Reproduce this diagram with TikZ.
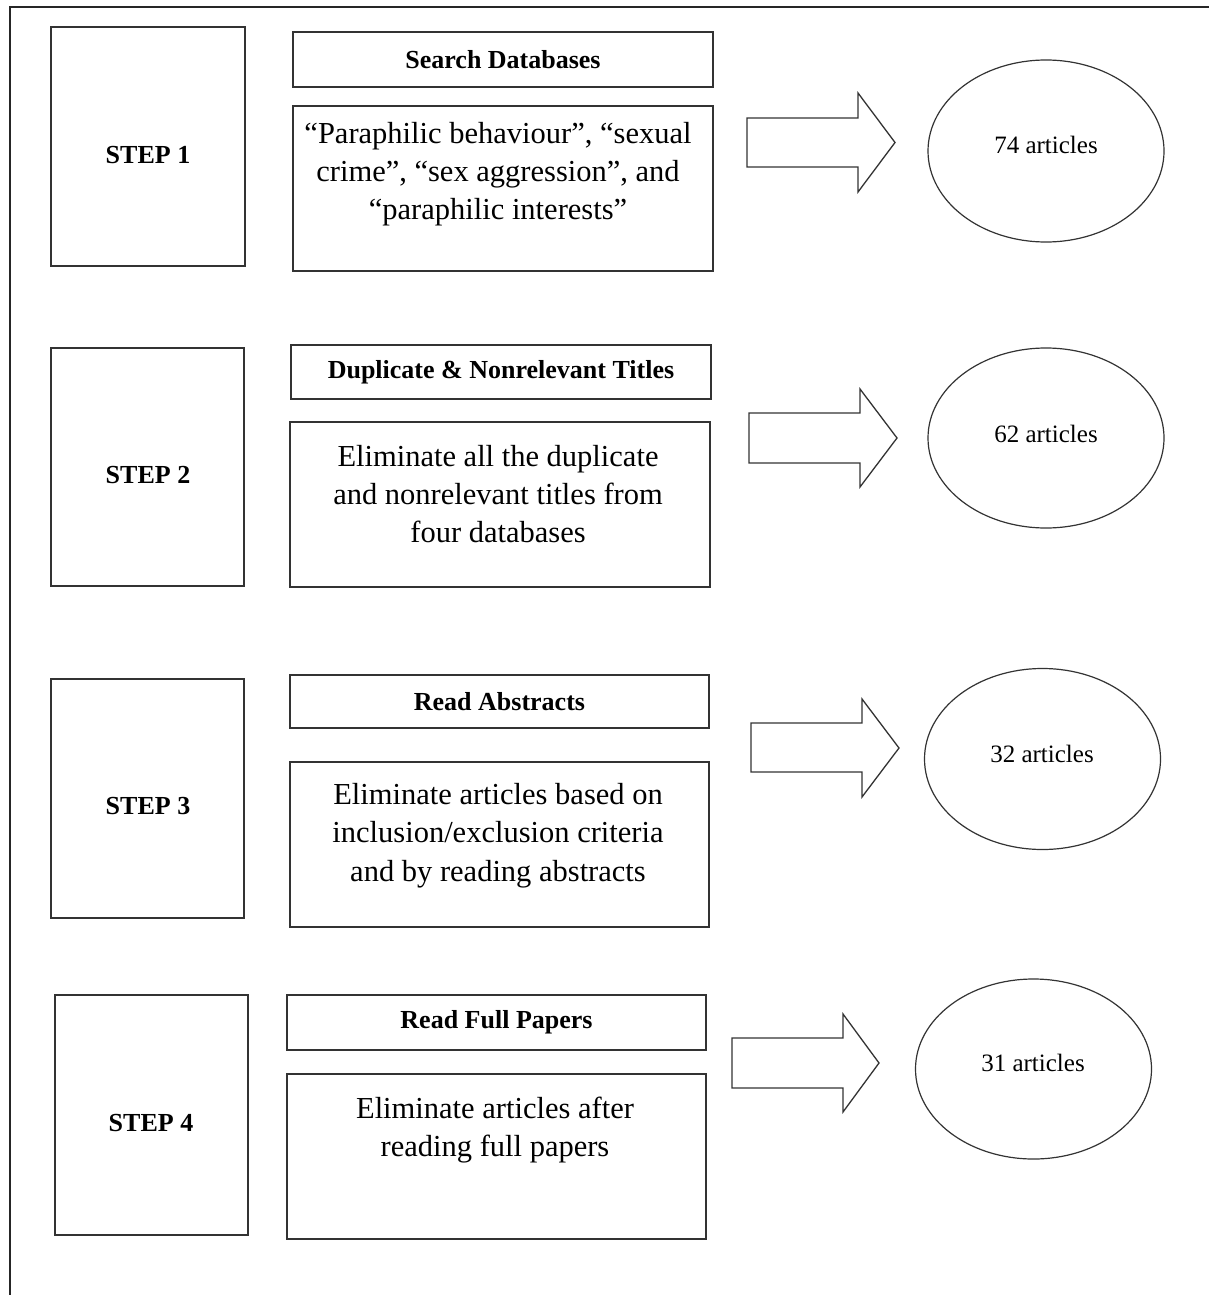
\documentclass[tikz,border=0pt]{standalone}
\usepackage{fontspec}
\setmainfont{Liberation Serif}
\usetikzlibrary{shapes.geometric}
\tikzset{
  box/.style={draw=black!80, line width=1.5pt, rectangle, inner sep=0pt},
  steptxt/.style={inner sep=0pt, font=\fontsize{26}{30}\selectfont\bfseries},
  titlebox/.style={box, font=\fontsize{26}{30}\selectfont\bfseries},
  bodytxt/.style={align=center, inner sep=0pt, font=\fontsize{30.5}{38.3}\selectfont},
  oval/.style={draw=black!80, line width=1.2pt, ellipse, inner sep=0pt, minimum width=236pt},
  ovaltxt/.style={inner sep=0pt, font=\fontsize{25}{30}\selectfont},
  blockarrow/.style={draw=black!80, line width=1.3pt, line join=miter, fill=white},
  frame/.style={draw=black!85, line width=1.3pt}
}
\begin{document}
\begin{tikzpicture}[x=1pt,y=-1pt]
\useasboundingbox (0,0) rectangle (1208,1295);
\fill[white] (0,0) rectangle (1208,1295);
% outer frame (top and left edges visible)
\coordinate (fTR) at (1210,7);
\coordinate (fTL) at (10,7);
\coordinate (fBL) at (10,1297);
\draw[frame] (fTR) -- (fTL) -- (fBL);

% ---------- STEP 1 ----------
\node[box, minimum width=194pt, minimum height=239pt] (s1) at (148,146.5) {};
\node[steptxt] (l1) at (148,155) {STEP 1};
\node[titlebox, minimum width=420pt, minimum height=55pt] (h1) at (503,59.5) {Search Databases};
\node[box, minimum width=420pt, minimum height=165pt] (b1) at (503,188.5) {};
\node[bodytxt] (t1) at (498,174) {``Paraphilic behaviour'', ``sexual\\crime'', ``sex aggression'', and\\``paraphilic interests''};
\draw[blockarrow] (747,118) -- (858,118) -- (858,93) -- (895,142.5) -- (858,192) -- (858,167) -- (747,167) -- cycle;
\node[oval, minimum height=182pt] (e1) at (1046,151) {};
\node[ovaltxt] (n1) at (1046,145) {74 articles};

% ---------- STEP 2 ----------
\node[box, minimum width=193pt, minimum height=238pt] (s2) at (147.5,467) {};
\node[steptxt] (l2) at (148,475) {STEP 2};
\node[titlebox, minimum width=420pt, minimum height=54pt] (h2) at (501,372) {Duplicate \& Nonrelevant Titles};
\node[box, minimum width=420pt, minimum height=165pt] (b2) at (500,504.5) {};
\node[bodytxt] (t2) at (498,494) {Eliminate all the duplicate\\and nonrelevant titles from\\four databases};
\draw[blockarrow] (749,413) -- (860,413) -- (860,389) -- (897,438) -- (860,487) -- (860,463) -- (749,463) -- cycle;
\node[oval, minimum height=180pt] (e2) at (1046,438) {};
\node[ovaltxt] (n2) at (1046,434) {62 articles};

% ---------- STEP 3 ----------
\node[box, minimum width=193pt, minimum height=239pt] (s3) at (147.5,798.5) {};
\node[steptxt] (l3) at (148,806) {STEP 3};
\node[titlebox, minimum width=419pt, minimum height=53pt] (h3) at (499.5,701.5) {Read Abstracts};
\node[box, minimum width=419pt, minimum height=165pt] (b3) at (499.5,844.5) {};
\node[bodytxt] (t3) at (498,835.5) {Eliminate articles based on\\inclusion/exclusion criteria\\and by reading abstracts};
\draw[blockarrow] (751,723) -- (862,723) -- (862,699) -- (899,748) -- (862,797) -- (862,772) -- (751,772) -- cycle;
\node[oval, minimum height=181pt] (e3) at (1042.5,759) {};
\node[ovaltxt] (n3) at (1042,754) {32 articles};

% ---------- STEP 4 ----------
\node[box, minimum width=193pt, minimum height=240pt] (s4) at (151.5,1115) {};
\node[steptxt] (l4) at (151,1123) {STEP 4};
\node[titlebox, minimum width=419pt, minimum height=55pt] (h4) at (496.5,1022.5) {Read Full Papers};
\node[box, minimum width=419pt, minimum height=165pt] (b4) at (496.5,1156.5) {};
\node[bodytxt] (t4) at (495,1130) {Eliminate articles after\\reading full papers};
\draw[blockarrow] (732,1038) -- (843,1038) -- (843,1014) -- (879,1063) -- (843,1112) -- (843,1088) -- (732,1088) -- cycle;
\node[oval, minimum height=180pt] (e4) at (1033.5,1069) {};
\node[ovaltxt] (n4) at (1033,1063) {31 articles};
\end{tikzpicture}
\end{document}
